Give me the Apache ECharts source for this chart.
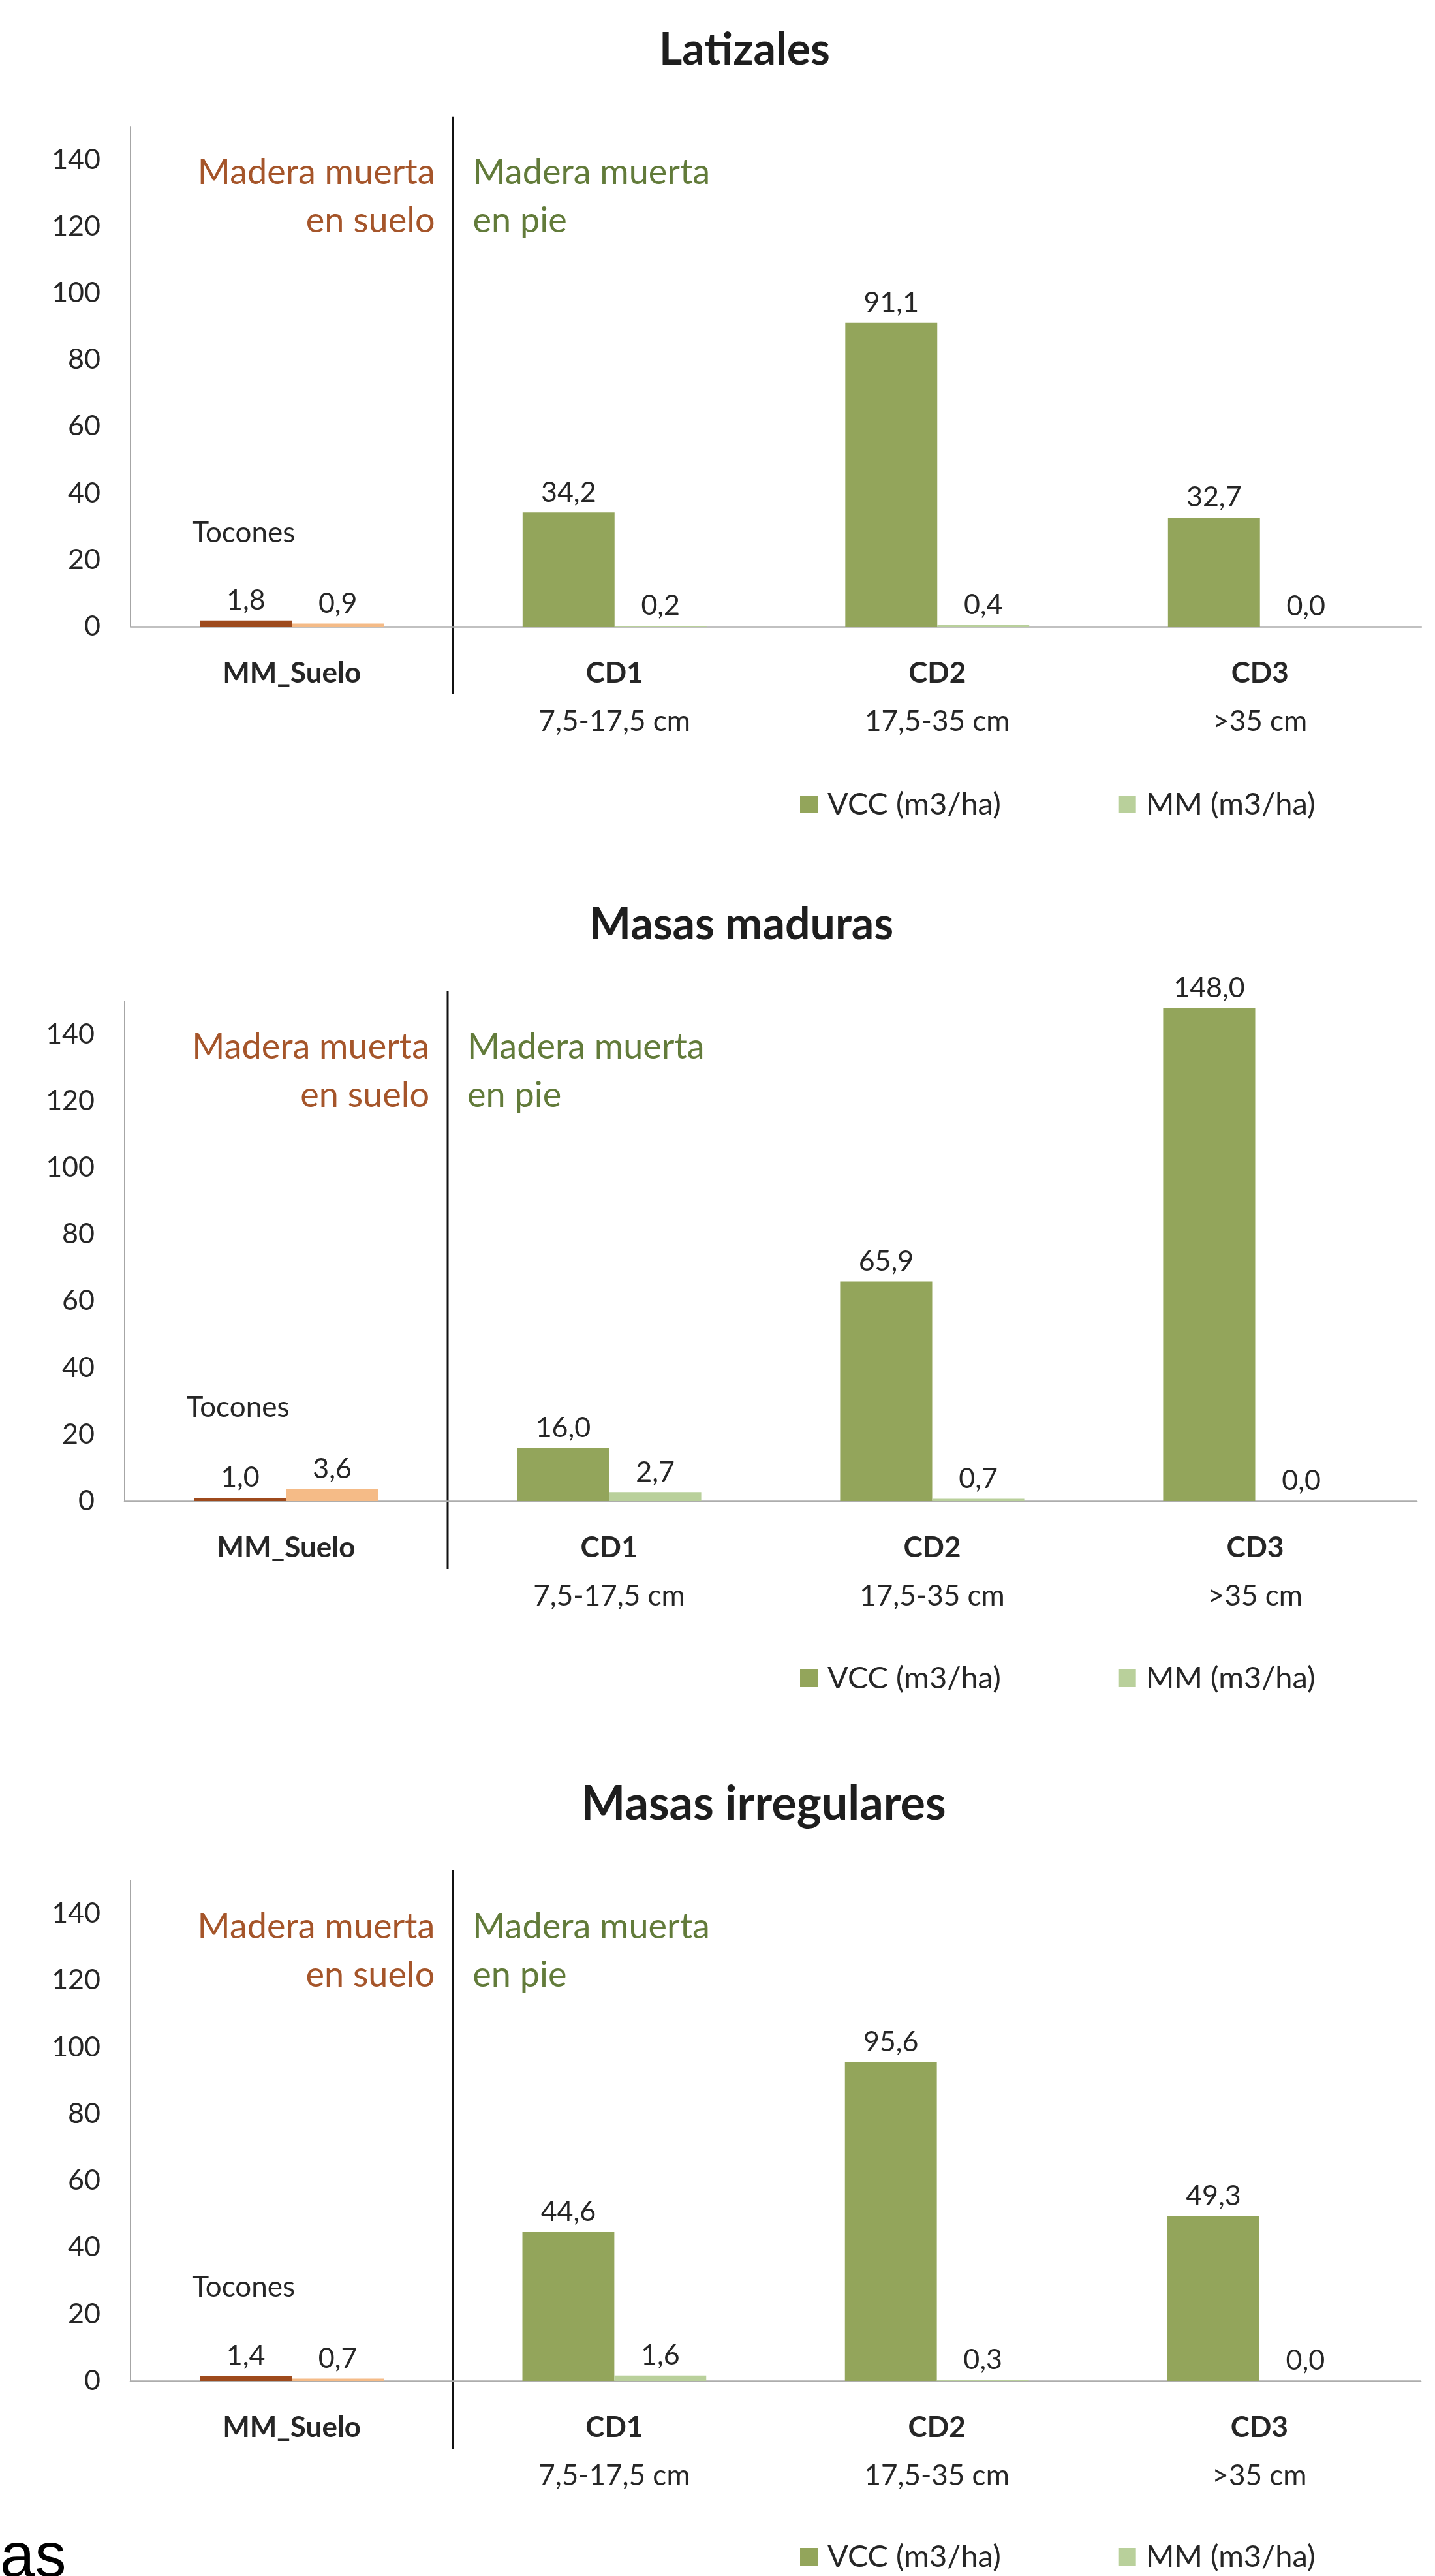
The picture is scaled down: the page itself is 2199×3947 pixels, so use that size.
<!DOCTYPE html>
<html><head><meta charset="utf-8">
<script src="https://cdn.jsdelivr.net/npm/echarts@6.0.0/dist/echarts.min.js"></script>
<style>html,body{margin:0;padding:0;background:#fff}#c{width:2199px;height:3947px}</style>
</head><body><div id="c"></div>
<script>
// ---------- data ----------
const categories = ['MM_Suelo', 'CD1', 'CD2', 'CD3'];
const diameterRanges = ['', '7,5-17,5 cm', '17,5-35 cm', '>35 cm'];
const panelTitles = ['Latizales', 'Masas maduras', 'Masas irregulares'];
const seriesNames = ['VCC (m3/ha)', 'MM (m3/ha)'];
const vccLatizales = [1.8, 34.2, 91.1, 32.7];
const mmLatizales = [0.9, 0.2, 0.4, 0.0];
const vccMaduras = [1.0, 16.0, 65.9, 148.0];
const mmMaduras = [3.6, 2.7, 0.7, 0.0];
const vccIrregulares = [1.4, 44.6, 95.6, 49.3];
const mmIrregulares = [0.7, 1.6, 0.3, 0.0];
const yMin = 0, yMax = 150, yStep = 20, yLastLabel = 140;
const groupLabelSuelo = ['Madera muerta', 'en suelo'];
const groupLabelPie = ['Madera muerta', 'en pie'];
const stumpLabel = 'Tocones';
const stumpLabelValue = 28;
const strayText = 'as';

// ---------- styles / layout ----------
const FONT = 'Lato';
const TXT = '#262626';
const GREEN = '#93A55B', LIGHTGREEN = '#B9D09B', BROWN = '#9E4A1C', PEACH = '#F5BB87';
const BROWN_TXT = '#A5552A', GREEN_TXT = '#627B3A';
const vcc = [vccLatizales, vccMaduras, vccIrregulares];
const mm = [mmLatizales, mmMaduras, mmIrregulares];
const grids = [
  {left: 200, right: 21, top: 194, height: 766},
  {left: 191, right: 28, top: 1534, height: 766},
  {left: 200, right: 22, top: 2881, height: 767}
];
const titleCenters = [1141, 1136, 1170];
const titleSizes = [68, 68, 72];
const legendCenterY = [1233, 2572, 3918];

const fmt = p => Number(p.value).toFixed(1).replace('.', ',');
const labelCfg = {show: true, position: 'top', distance: 9, formatter: fmt,
  fontFamily: FONT, fontSize: 43, color: TXT};

const option = {
  animation: false,
  backgroundColor: '#fff',
  grid: grids.map(g => Object.assign({outerBoundsMode: 'none', containLabel: false}, g)),
  xAxis: grids.map((g, p) => ({
    type: 'category', gridIndex: p, data: categories,
    axisLine: {show: true, lineStyle: {color: '#ADADAD', width: 2.5}},
    axisTick: {show: false},
    splitLine: {show: false},
    axisLabel: {
      interval: 0, margin: 35,
      formatter: (v, i) => diameterRanges[i] ? '{a|' + v + '}\n{b|' + diameterRanges[i] + '}' : '{a|' + v + '}',
      rich: {
        a: {fontFamily: FONT, fontWeight: 'bold', fontSize: 44, color: TXT, lineHeight: 74},
        b: {fontFamily: FONT, fontSize: 44, color: TXT, lineHeight: 74}
      }
    }
  })),
  yAxis: grids.map((g, p) => ({
    type: 'value', gridIndex: p, min: yMin, max: yMax, interval: yStep,
    axisLine: {show: true, lineStyle: {color: '#A6A6A6', width: 2}},
    axisTick: {show: false},
    splitLine: {show: false},
    axisLabel: {margin: 46, fontFamily: FONT, fontSize: 43, color: TXT, showMaxLabel: false,
      formatter: v => (v > yLastLabel ? '' : String(v))}
  })),
  legend: grids.map((g, p) => ({
    data: seriesNames, left: 1226, top: legendCenterY[p] - 24, padding: 0,
    itemWidth: 27, itemHeight: 27, itemGap: 180, icon: 'rect', selectedMode: false,
    textStyle: {fontFamily: FONT, fontSize: 47, color: TXT, padding: [0, 0, 0, 10]}
  })),
  series: []
};

for (let p = 0; p < 3; p++) {
  option.series.push({
    name: seriesNames[0], type: 'bar', xAxisIndex: p, yAxisIndex: p,
    barGap: '0%', barCategoryGap: '43%',
    itemStyle: {color: GREEN},
    data: vcc[p].map((v, i) => i === 0 ? {value: v, itemStyle: {color: BROWN}} : v),
    label: labelCfg
  });
  option.series.push({
    name: seriesNames[1], type: 'bar', xAxisIndex: p, yAxisIndex: p,
    barGap: '0%', barCategoryGap: '43%',
    itemStyle: {color: LIGHTGREEN},
    data: mm[p].map((v, i) => i === 0 ? {value: v, itemStyle: {color: PEACH}} : v),
    label: labelCfg
  });
}

const chart = echarts.init(document.getElementById('c'), null, {renderer: 'canvas'});
chart.setOption(option);

// ---------- annotations tied to the axes ----------
const graphics = [];
for (let p = 0; p < 3; p++) {
  const xa = chart.convertToPixel({xAxisIndex: p}, categories[0]);
  const xb = chart.convertToPixel({xAxisIndex: p}, categories[1]);
  const xd = (xa + xb) / 2;
  const yBase = chart.convertToPixel({yAxisIndex: p}, 0);
  const yTop = chart.convertToPixel({yAxisIndex: p}, 153);
  graphics.push({type: 'line', silent: true,
    shape: {x1: xd, y1: yTop, x2: xd, y2: yBase + 104},
    style: {stroke: '#111', lineWidth: 3}});
  graphics.push({type: 'text', x: titleCenters[p], y: yBase - 883,
    style: {text: panelTitles[p], fontFamily: FONT, fontWeight: 'bold', fontSize: titleSizes[p], fill: '#1E1E1E', align: 'center', verticalAlign: 'middle'}});
  groupLabelSuelo.forEach((t, k) => graphics.push({type: 'text', x: xd - 28, y: yBase - 695 + k * 74,
    style: {text: t, fontFamily: FONT, fontSize: 54, fill: BROWN_TXT, align: 'right', verticalAlign: 'middle'}}));
  groupLabelPie.forEach((t, k) => graphics.push({type: 'text', x: xd + 30, y: yBase - 695 + k * 74,
    style: {text: t, fontFamily: FONT, fontSize: 54, fill: GREEN_TXT, align: 'left', verticalAlign: 'middle'}}));
  graphics.push({type: 'text', x: xa - 74, y: chart.convertToPixel({yAxisIndex: p}, stumpLabelValue),
    style: {text: stumpLabel, fontFamily: FONT, fontSize: 44, fill: TXT, align: 'center', verticalAlign: 'middle'}});
}
graphics.push({type: 'text', x: 0, y: 3922,
  style: {text: strayText, fontFamily: 'Liberation Sans', fontSize: 96, fill: '#000', align: 'left', verticalAlign: 'middle'}});
chart.setOption({graphic: graphics});
</script>
</body></html>
